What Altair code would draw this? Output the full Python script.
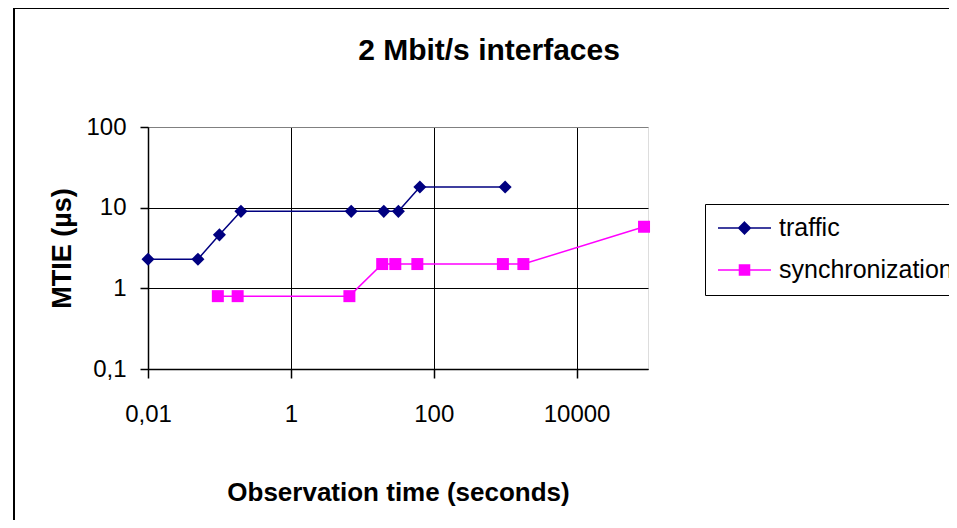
import altair as alt
import pandas as pd

# ---- data ----
series_names = ["traffic", "synchronization"]
series_colors = ["#000080", "#FF00FF"]

traffic_t = [0.01, 0.05, 0.1, 0.2, 7, 20, 32, 64, 1000]
traffic_mtie = [2.3, 2.3, 4.6, 9, 9, 9, 9, 18, 18]

sync_t = [0.095, 0.18, 6.6, 19, 29, 59, 930, 1800, 88000]
sync_mtie = [0.8, 0.8, 0.8, 2, 2, 2, 2, 2, 5.8]

x_ticks = [0.01, 1, 100, 10000]
y_ticks = [0.1, 1, 10, 100]
x_domain = [0.01, 100000]
y_domain = [0.1, 100]

rows = []
for i, (t, m) in enumerate(zip(traffic_t, traffic_mtie)):
    rows.append({"t": t, "mtie": m, "series": "traffic", "order": i})
for i, (t, m) in enumerate(zip(sync_t, sync_mtie)):
    rows.append({"t": t, "mtie": m, "series": "synchronization", "order": i})
df = pd.DataFrame(rows)

FONT = "Liberation Sans"
PLOT_W, PLOT_H = 500, 242

color_scale = alt.Scale(domain=series_names, range=series_colors)

x_enc = alt.X(
    "t:Q",
    scale=alt.Scale(type="log", domain=x_domain),
    axis=alt.Axis(
        values=x_ticks,
        labelExpr="replace(toString(datum.value), '.', ',')",
        title="Observation time (seconds)",
        titleFont=FONT, titleFontSize=26, titleFontWeight="bold", titleColor="black",
        titleY=131, titleBaseline="alphabetic",
        labelFont=FONT, labelFontSize=24, labelColor="black",
        labelPadding=24, labelFlush=False, labelOverlap=False, labelBound=False,
        grid=True, gridColor="black", gridWidth=1,
        domainColor="black", domainWidth=1.5,
        tickColor="black", tickWidth=1.5, tickSize=9,
    ),
)
y_enc = alt.Y(
    "mtie:Q",
    scale=alt.Scale(type="log", domain=y_domain),
    axis=alt.Axis(
        values=y_ticks,
        labelExpr="replace(toString(datum.value), '.', ',')",
        title="MTIE (µs)",
        titleFont=FONT, titleFontSize=27, titleFontWeight="bold", titleColor="black",
        titleX=-78, titleBaseline="alphabetic",
        labelFont=FONT, labelFontSize=24, labelColor="black",
        labelPadding=14, labelFlush=False, labelOverlap=False,
        grid=True,
        gridColor={"condition": {"test": "datum.value >= 50", "value": "#808080"}, "value": "black"},
        gridWidth=1,
        domainColor="black", domainWidth=1.5,
        tickColor="black", tickWidth=1.5, tickSize=8,
    ),
)

base = alt.Chart(df)

frame = alt.Chart(alt.Data(values=[{"k": 1}])).mark_rect(
    fillOpacity=0, stroke="black", strokeWidth=2
).encode(
    x=alt.value(14 - 148), x2=alt.value(830),
    y=alt.value(8 - 127), y2=alt.value(430),
)

# legend symbols: a line with a (stroke-filled) marker on it
def diamond_path(radii):
    return "".join(f"M0,{-r}L{r},0L0,{r}L{-r},0Z" for r in radii)

def square_path(halves):
    return "".join(f"M{-s},{-s}H{s}V{s}H{-s}Z" for s in halves)

path_traffic = "M-1,0H1" + diamond_path([0.22, 0.17, 0.12, 0.07, 0.03])
path_sync = "M-1,0H1" + square_path([0.19, 0.14, 0.09, 0.045])

leg = alt.Legend(
    title=None, orient="none", legendX=557, legendY=77,
    strokeColor="black", fillColor="white", padding=12,
    labelFont=FONT, labelFontSize=25, labelColor="black", labelOffset=7, labelLimit=0,
    rowPadding=17, clipHeight=24, symbolSize=2809, symbolStrokeWidth=1.5,
    direction="vertical",
    symbolType={"expr": f"datum.value == 'traffic' ? '{path_traffic}' : '{path_sync}'"},
)

lines = base.mark_line(strokeWidth=1.5).encode(
    x=x_enc, y=y_enc,
    color=alt.Color("series:N", scale=color_scale, legend=leg),
    order="order:Q",
)

pts_traffic = base.transform_filter("datum.series == 'traffic'").mark_point(
    filled=True, opacity=1, shape="diamond", size=170
).encode(x=x_enc, y=y_enc, color=alt.Color("series:N", scale=color_scale, legend=None))

pts_sync = base.transform_filter("datum.series == 'synchronization'").mark_point(
    filled=True, opacity=1, shape="square", size=144
).encode(x=x_enc, y=y_enc, color=alt.Color("series:N", scale=color_scale, legend=None))

chart = alt.layer(frame, lines, pts_traffic, pts_sync).properties(
    width=PLOT_W, height=PLOT_H,
    title=alt.TitleParams(
        "2 Mbit/s interfaces", font=FONT, fontSize=30, fontWeight="bold", color="black",
        anchor="middle", frame="group", dx=91, offset=-83, baseline="alphabetic",
    ),
    autosize=alt.AutoSizeParams(type="none"),
    padding={"left": 140, "top": 119, "right": 301, "bottom": 151},
).configure_view(
    fill="#C0C0C0", stroke="#808080", strokeWidth=2
).configure(background="white")

chart.save("out.html", embed_options={"renderer": "svg", "actions": False})
